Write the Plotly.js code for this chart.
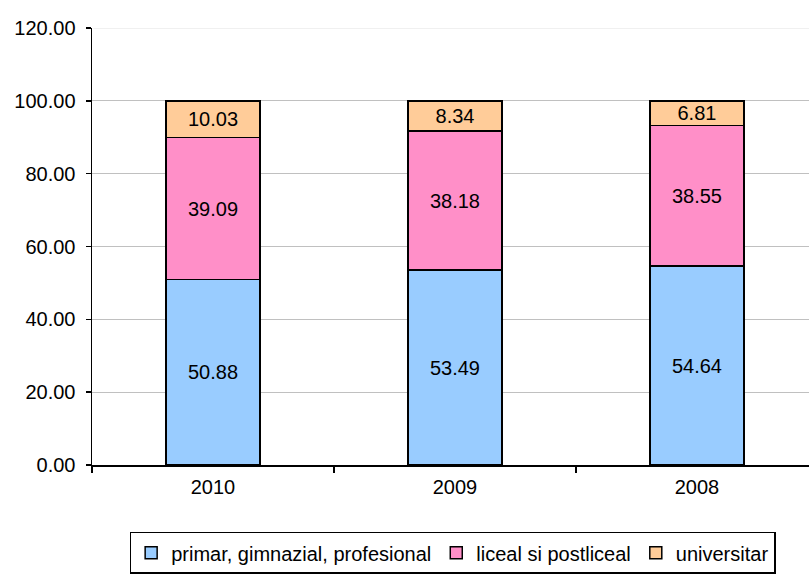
<!DOCTYPE html>
<html><head><meta charset="utf-8">
<script src="https://cdn.plot.ly/plotly-3.0.1.min.js"></script>
<style>html,body{margin:0;padding:0;background:#fff;}</style>
</head><body>
<div id="chart" style="width:809px;height:574px;"></div>
<script>
const categories = ["2010", "2009", "2008"];
const seriesNames = ["primar, gimnazial, profesional", "liceal si postliceal", "universitar"];
const primar = [50.88, 53.49, 54.64];
const liceal = [39.09, 38.18, 38.55];
const universitar = [10.03, 8.34, 6.81];
const yTicks = [0, 20, 40, 60, 80, 100, 120];

const colors = ["#99CCFF", "#FF8FC8", "#FFCC99"];
const values = [primar, liceal, universitar];
const font = "Liberation Sans, Arial, sans-serif";

const traces = values.map((v, i) => ({
  type: "bar",
  name: seriesNames[i],
  x: categories,
  y: v,
  width: 0.39,
  marker: {color: colors[i], line: {color: "#000", width: 1.5}},
  texttemplate: "%{y:.2f}",
  textposition: "inside",
  insidetextanchor: "middle",
  textfont: {family: font, size: 20, color: "#000"},
  constraintext: "none",
  hoverinfo: "skip"
}));

const layout = {
  width: 809, height: 574,
  margin: {l: 92, r: 0, t: 28, b: 102},
  barmode: "stack",
  paper_bgcolor: "#fff", plot_bgcolor: "#fff",
  font: {family: font, size: 20, color: "#000"},
  showlegend: true,
  legend: {
    orientation: "h", traceorder: "normal",
    x: 0.503, xanchor: "center", y: -0.153, yanchor: "top",
    bordercolor: "#000", borderwidth: 1.5,
    font: {family: font, size: 20, color: "#000"},
    itemwidth: 30, tracegroupgap: 0
  },
  xaxis: {
    type: "category", range: [-0.5, 2.463],
    tickson: "boundaries", ticks: "outside", ticklen: 6, tickcolor: "#000", tickwidth: 1.5,
    showline: true, linecolor: "#000", linewidth: 2, showgrid: false,
    tickfont: {family: font, size: 20}, zeroline: false, ticklabelstandoff: 3
  },
  yaxis: {
    range: [0, 120], tickvals: yTicks, tickformat: ".2f",
    ticks: "outside", ticklen: 5, tickcolor: "#000", tickwidth: 1.5,
    showline: true, linecolor: "#000", linewidth: 1.5,
    showgrid: true, gridcolor: "#C0C0C0", gridwidth: 1, zeroline: false,
    tickfont: {family: font, size: 20}, ticklabelstandoff: 6
  },
  shapes: [{
    type: "line", xref: "paper", yref: "y", x0: 0.002, x1: 1, y0: 120, y1: 120,
    line: {color: "#F0F0F0", width: 2}, layer: "above"
  }]
};

Plotly.newPlot("chart", traces, layout, {displayModeBar: false, staticPlot: true});
</script>
</body></html>
